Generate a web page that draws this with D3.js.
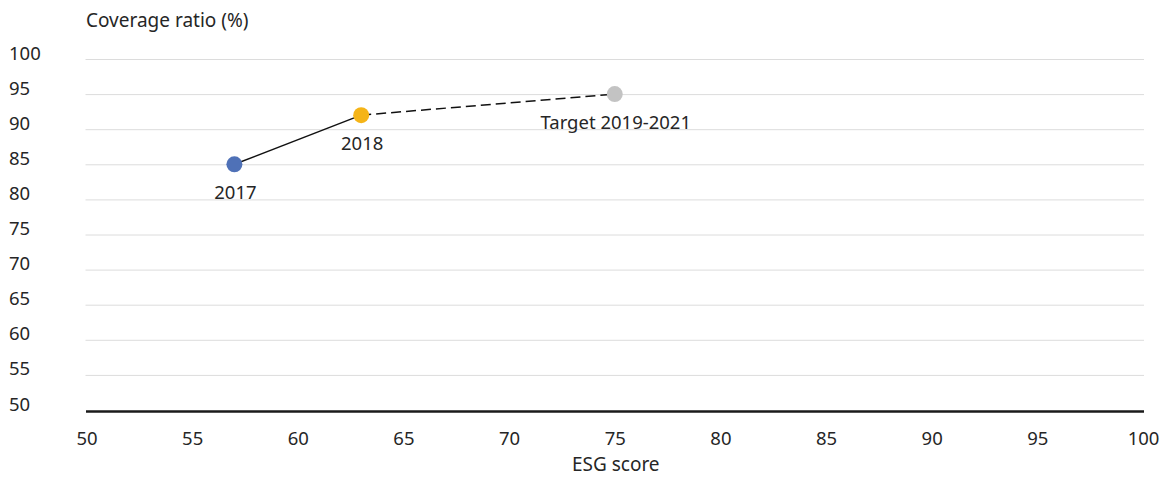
<!DOCTYPE html>
<html>
<head>
<meta charset="utf-8">
<script src="https://cdn.jsdelivr.net/npm/d3@7"></script>
<style>
  body { margin: 0; background: #fff; }
  svg text { font-family: "Noto Sans", sans-serif; fill: #262626; }
</style>
</head>
<body>
<svg id="chart" width="1165" height="477"></svg>
<script>
// data
var labels = ["2017", "2018", "Target 2019-2021"];
var esgScores = [57, 63, 75];
var coverage = [85, 92, 95];
var pointColors = ["#4f71b7", "#f5b417", "#c3c3c3"];
var xTicks = [50, 55, 60, 65, 70, 75, 80, 85, 90, 95, 100];
var yTicks = [50, 55, 60, 65, 70, 75, 80, 85, 90, 95, 100];

var font = "'Noto Sans', sans-serif";
var fontSize = 18.5;

var svg = d3.select("#chart");

var x = d3.scaleLinear().domain([50, 100]).range([86.5, 1143]);
var y = d3.scaleLinear().domain([50, 100]).range([410, 59]);

//gridlines
svg.append("g").selectAll("line")
  .data(yTicks.filter(function(d){ return d > 50; }))
  .enter().append("line")
  .attr("x1", x(50) - 1).attr("x2", x(100) + 1)
  .attr("y1", function(d){ return y(d) + 0.5; })
  .attr("y2", function(d){ return y(d) + 0.5; })
  .attr("stroke", "#dcdcdc").attr("stroke-width", 1);

//y labels
svg.append("g").selectAll("text")
  .data(yTicks)
  .enter().append("text")
  .attr("x", 9)
  .attr("y", function(d){ return y(d) + 0.5; })
  .attr("font-size", fontSize)
  .text(function(d){ return d; });

//x axis
var xAxis = d3.axisBottom(x).tickValues(xTicks).tickSize(0);
var gx = svg.append("g").attr("transform", "translate(0," + (y(50) + 1.5) + ")").call(xAxis);
gx.select(".domain").attr("stroke", "#1a1a1a").attr("stroke-width", 2.5)
  .attr("d", "M" + (x(50) - 0.5) + ",0H" + (x(100) + 1));
gx.selectAll(".tick text")
  .attr("y", 33).attr("dy", null)
  .attr("font-size", fontSize).attr("font-family", font).attr("fill", "#262626");

//axis titles
svg.append("text").attr("x", 86).attr("y", 27).attr("font-size", 19).text("Coverage ratio (%)");
svg.append("text").attr("x", x(75) + 1).attr("y", 471).attr("text-anchor", "middle")
  .attr("font-size", 19).text("ESG score");

var pts = labels.map(function(l, i){
  return { label: l, x: esgScores[i], y: coverage[i], color: pointColors[i] };
});

//connecting lines
svg.append("line")
  .attr("x1", x(pts[0].x)).attr("y1", y(pts[0].y))
  .attr("x2", x(pts[1].x)).attr("y2", y(pts[1].y))
  .attr("stroke", "#111").attr("stroke-width", 1.5);
svg.append("line")
  .attr("x1", x(pts[1].x)).attr("y1", y(pts[1].y))
  .attr("x2", x(pts[2].x)).attr("y2", y(pts[2].y))
  .attr("stroke", "#111").attr("stroke-width", 1.5)
  .attr("stroke-dasharray", "10,5");

svg.append("g").selectAll("circle")
  .data(pts).enter().append("circle")
  .attr("cx", function(d){ return x(d.x); })
  .attr("cy", function(d){ return y(d.y); })
  .attr("r", 8)
  .attr("fill", function(d){ return d.color; });

svg.append("g").selectAll("text")
  .data(pts).enter().append("text")
  .attr("x", function(d){ return x(d.x) + 1; })
  .attr("y", function(d){ return y(d.y) + 34.5; })
  .attr("text-anchor", "middle")
  .attr("font-size", fontSize)
  .text(function(d){ return d.label; });
</script>
</body>
</html>
